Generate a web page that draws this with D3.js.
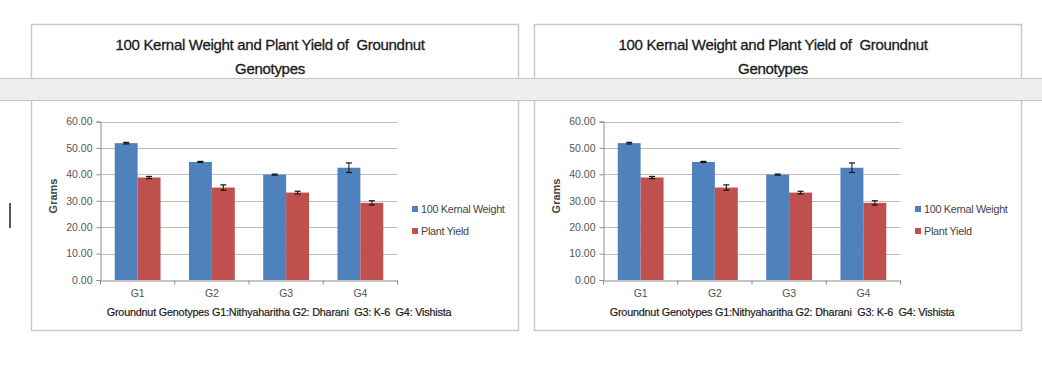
<!DOCTYPE html>
<html><head><meta charset="utf-8">
<script src="https://cdn.jsdelivr.net/npm/d3@7"></script>
<style>
html,body{margin:0;padding:0;background:#fff;}
svg{display:block;font-family:"Liberation Sans",Arial,sans-serif;}
text{white-space:pre;}
</style></head>
<body>
<svg id="c" width="1042" height="367"></svg>
<script>
const categories = ["G1","G2","G3","G4"];
const seriesNames = ["100 Kernal Weight","Plant Yield"];
const kernelWeight = [51.8, 44.7, 39.9, 42.5];
const kernelErr = [0.3, 0.2, 0.2, 1.8];
const plantYield = [38.8, 35.0, 33.1, 29.2];
const yieldErr = [0.4, 1.0, 0.5, 0.8];
const yTicks = [0,10,20,30,40,50,60];
const titleLines = ["100 Kernal Weight and Plant Yield of  Groundnut","Genotypes"];
const xTitle = "Groundnut Genotypes G1:Nithyaharitha G2: Dharani  G3: K-6  G4: Vishista";
const yTitle = "Grams";
const colors = ["#4f81bd","#c0504d"];

const svg = d3.select("#c");

function drawChart(ox){
  const g = svg.append("g").attr("transform",`translate(${ox},0)`);
  g.append("rect").attr("x",31.5).attr("y",24.5).attr("width",487).attr("height",306)
    .attr("fill","#fff").attr("stroke","#c9c9c9").attr("stroke-width",1.5);
  titleLines.forEach((t,i)=>{
    g.append("text").attr("x",270).attr("y",50+i*24).attr("text-anchor","middle")
      .attr("font-size",15).attr("fill","#1a1a1a").attr("stroke","#1a1a1a").attr("stroke-width",0.3)
      .attr("letter-spacing",-0.3).text(t);
  });
  const x0 = d3.scaleBand().domain(categories).range([100.5,397.5]);
  const x1 = d3.scaleBand().domain(seriesNames).range([0,x0.bandwidth()]).paddingInner(0).paddingOuter(0.62);
  const y = d3.scaleLinear().domain([0,60]).range([280,121.5]);
  g.append("g").selectAll("line").data(yTicks.filter(d=>d>0)).join("line")
    .attr("x1",100.5).attr("x2",397.5).attr("y1",d=>Math.round(y(d))+0.5).attr("y2",d=>Math.round(y(d))+0.5)
    .attr("stroke","#bdbdbd").attr("stroke-width",1);
  const ya = g.append("g").attr("transform","translate(100.5,0)")
    .call(d3.axisLeft(y).tickValues(yTicks).tickFormat(d3.format(".2f")).tickSize(4).tickPadding(4));
  ya.select(".domain").attr("stroke","#8a8a8a");
  ya.selectAll(".tick line").attr("stroke","#8a8a8a");
  ya.selectAll("text").attr("font-size",10.5).attr("fill","#555").attr("font-family","Liberation Sans, Arial");
  const data = categories.map((c,i)=>({c, vals:[
    {s:seriesNames[0],v:kernelWeight[i],e:kernelErr[i],col:colors[0]},
    {s:seriesNames[1],v:plantYield[i],e:yieldErr[i],col:colors[1]}]}));
  const grp = g.append("g").selectAll("g").data(data).join("g")
    .attr("transform",d=>`translate(${x0(d.c)},0)`);
  grp.selectAll("rect").data(d=>d.vals).join("rect")
    .attr("x",d=>x1(d.s)).attr("width",x1.bandwidth())
    .attr("y",d=>y(d.v)).attr("height",d=>y(0)-y(d.v)).attr("fill",d=>d.col);
  const eb = grp.selectAll("g.eb").data(d=>d.vals).join("g").attr("class","eb")
    .attr("transform",d=>`translate(${x1(d.s)+x1.bandwidth()/2},0)`);
  eb.append("line").attr("y1",d=>y(d.v+d.e)).attr("y2",d=>y(d.v-d.e)).attr("stroke","#111").attr("stroke-width",1);
  eb.append("line").attr("x1",-3).attr("x2",3).attr("y1",d=>y(d.v+d.e)).attr("y2",d=>y(d.v+d.e)).attr("stroke","#111").attr("stroke-width",1.2);
  eb.append("line").attr("x1",-3).attr("x2",3).attr("y1",d=>y(d.v-d.e)).attr("y2",d=>y(d.v-d.e)).attr("stroke","#111").attr("stroke-width",1.2);
  const xa = g.append("g").attr("transform","translate(0,280.5)")
    .call(d3.axisBottom(x0).tickSize(0).tickPadding(9));
  xa.select(".domain").attr("stroke","#8a8a8a");
  xa.selectAll("text").attr("font-size",10.5).attr("fill","#555").attr("font-family","Liberation Sans, Arial");
  xa.selectAll(".bt").data(categories.concat(["end"])).join("line")
    .attr("x1",(d,i)=>i<4?x0(d):397.5).attr("x2",(d,i)=>i<4?x0(d):397.5).attr("y1",0).attr("y2",4)
    .attr("stroke","#8a8a8a");
  g.append("text").attr("x",279).attr("y",315.5).attr("text-anchor","middle")
    .attr("font-size",10.8).attr("fill","#1a1a1a").attr("stroke","#1a1a1a").attr("stroke-width",0.2)
    .attr("letter-spacing",-0.2).text(xTitle);
  g.append("text").attr("transform","translate(57,196) rotate(-90)").attr("text-anchor","middle")
    .attr("font-size",11).attr("font-weight","bold").attr("fill","#444").text(yTitle);
  const lg = g.append("g").attr("transform","translate(412,0)");
  seriesNames.forEach((s,i)=>{
    lg.append("rect").attr("x",0).attr("y",206+i*22).attr("width",6).attr("height",6).attr("fill",colors[i]);
    lg.append("text").attr("x",9).attr("y",213+i*22).attr("font-size",10.8).attr("fill","#444")
      .attr("letter-spacing",-0.3).text(s);
  });
}
drawChart(0);
drawChart(503);

svg.append("rect").attr("x",-1).attr("y",78.5).attr("width",1044).attr("height",22)
  .attr("fill","#efeeed").attr("stroke","#c4c4c4").attr("stroke-width",1);
svg.append("line").attr("x1",10).attr("x2",10).attr("y1",203).attr("y2",228).attr("stroke","#000").attr("stroke-width",1.3);
</script>
</body></html>
